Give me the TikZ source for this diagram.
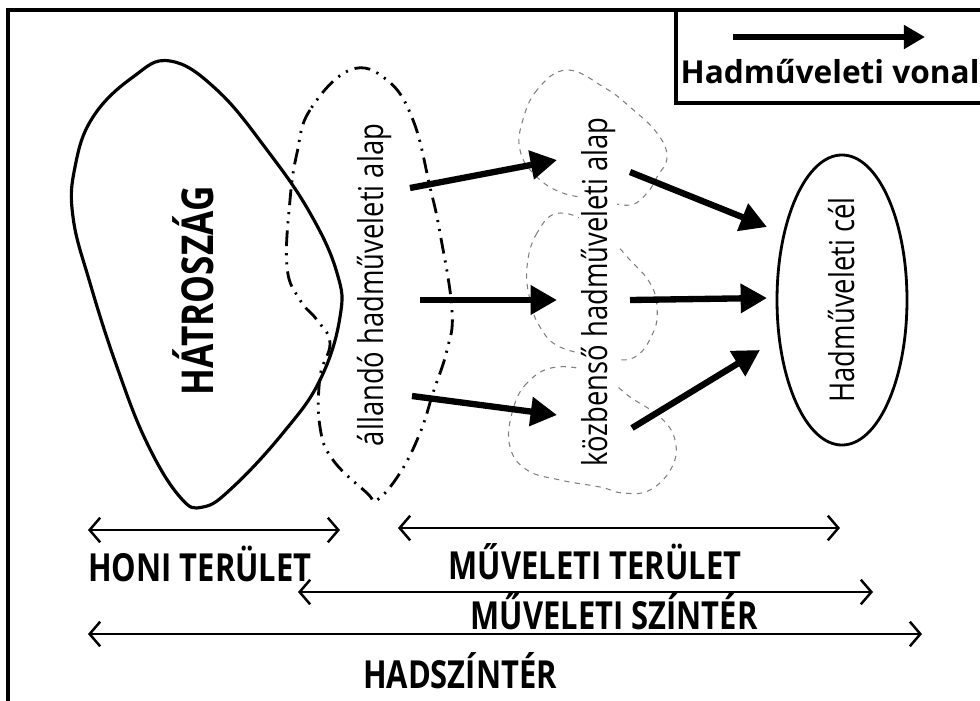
\documentclass[tikz,border=0pt]{standalone}
\usepackage{fontspec}
\setmainfont{Open Sans}
\newfontfamily\narrowfont{Open Sans}[FakeStretch=0.8]
\usetikzlibrary{arrows.meta, positioning, shapes.geometric}

\tikzset{
  hmvonal/.style={line width=3.6pt, -{Triangle[length=15pt,width=16pt]}},
  savnyil/.style={line width=1.4pt, {Straight Barb[length=6pt,width=14pt]}-{Straight Barb[length=6pt,width=14pt]}},
  savfelirat/.style={inner sep=0pt, font=\narrowfont\bfseries\fontsize{22}{24}\selectfont},
  alapfelirat/.style={rotate=90, fill=white, inner sep=1pt, font=\narrowfont\fontsize{19.5}{22}\selectfont},
  felho/.style={draw=gray, dashed, line width=0.6pt},
}

\begin{document}
\begin{tikzpicture}[x=0.02cm, y=-0.02cm]
\useasboundingbox (0,0) rectangle (980,700);
\fill[white] (0,0) rectangle (980,700);

% keret es jelmagyarazat
\draw[line width=2.3pt] (8,10) rectangle (1000,720);
\draw[line width=1.8pt] (676,10) rectangle (1000,103);
\coordinate (jel1) at (733,37);
\coordinate (jel2) at (925,37);
\draw[hmvonal, -{Triangle[length=12pt,width=13pt]}] (jel1) -- (jel2);
\node (jelmag) at (830,72) {\bfseries\fontsize{18}{20}\selectfont Hadműveleti vonal};

% hatorszag
\draw[line width=1.8pt] plot[smooth cycle, tension=0.7] coordinates {
  (170,61) (133,77) (93,117) (75,167) (73,217) (90,283) (117,367) (147,443)
  (180,497) (203,507) (233,487) (283,433) (320,380) (340,317) (337,273)
  (310,213) (267,150) (217,90)};
\node[rotate=90, font=\narrowfont\bfseries\fontsize{25}{27}\selectfont] (hatr) at (193,291) {HÁTROSZÁG};

% allando hadmuveleti alap
\draw[line width=1.6pt, dash pattern=on 9pt off 4pt on 1.2pt off 4pt on 1.2pt off 4pt]
  plot[smooth cycle, tension=0.7] coordinates {
  (350,70) (310,110) (297,153) (290,200) (287,267) (300,300) (317,320) (330,343)
  (320,377) (320,427) (333,460) (367,493) (377,500) (400,473) (420,433)
  (433,393) (447,350) (452,310) (440,233) (430,187) (413,120) (387,80)};
\node[alapfelirat] (allando) at (374,285) {állandó hadműveleti alap};

% kozbenso alapok
\draw[felho] plot[smooth cycle, tension=0.7] coordinates {
  (567,70) (537,90) (522,123) (520,150) (533,173) (560,192) (600,200) (630,205)
  (647,193) (657,177) (667,157) (657,133) (630,107) (605,88)};
\draw[felho] plot[smooth cycle, tension=0.7] coordinates {
  (560,213) (537,233) (527,267) (530,300) (540,327) (560,347) (600,356) (633,358)
  (653,333) (657,307) (650,283) (630,260) (600,230)};
\draw[felho] plot[smooth cycle, tension=0.7] coordinates {
  (557,367) (527,383) (512,413) (510,447) (527,470) (560,480) (600,487) (623,493)
  (650,490) (672,467) (675,440) (660,417) (630,397) (600,375)};
\node[alapfelirat] (kozbenso) at (598,292) {közbenső hadműveleti alap};

% hadmuveleti cel
\node[draw, ellipse, rotate=90, line width=1.6pt, minimum width=5.48cm,
  minimum height=2.6cm, inner sep=0pt, font=\narrowfont\fontsize{19.5}{22}\selectfont]
  (cel) at (842,300) {Hadműveleti cél};

% hadmuveleti vonalak
\coordinate (a1) at (410,188); \coordinate (k1) at (557,160);
\coordinate (a2) at (420,300); \coordinate (k2) at (557,300);
\coordinate (a3) at (412,396); \coordinate (k3) at (557,415);
\coordinate (b1) at (630,172); \coordinate (c1) at (767,227);
\coordinate (b2) at (630,300); \coordinate (c2) at (767,298);
\coordinate (b3) at (632,428); \coordinate (c3) at (760,350);
\draw[hmvonal] (a1) -- (k1);
\draw[hmvonal] (a2) -- (k2);
\draw[hmvonal] (a3) -- (k3);
\draw[hmvonal] (b1) -- (c1);
\draw[hmvonal] (b2) -- (c2);
\draw[hmvonal] (b3) -- (c3);

% teruletek
\coordinate (h1) at (88,530);  \coordinate (h2) at (340,530);
\coordinate (m1) at (398,528); \coordinate (m2) at (840,528);
\coordinate (s1) at (298,592); \coordinate (s2) at (873,592);
\coordinate (d1) at (88,634);  \coordinate (d2) at (922,634);
\draw[savnyil] (h1) -- (h2);
\draw[savnyil] (m1) -- (m2);
\draw[savnyil] (s1) -- (s2);
\draw[savnyil] (d1) -- (d2);
\node[savfelirat] (honi) at (200,564) {HONI TERÜLET};
\node[savfelirat] (mter) at (595,562) {MŰVELETI TERÜLET};
\node[savfelirat] (mszin) at (614,612) {MŰVELETI SZÍNTÉR};
\node[savfelirat] (hadsz) at (460,671) {HADSZÍNTÉR};
\end{tikzpicture}
\end{document}
